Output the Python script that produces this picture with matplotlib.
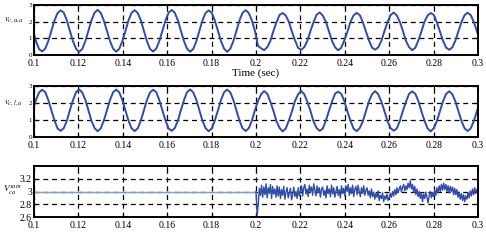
import numpy as np
import matplotlib
matplotlib.use("Agg")
import matplotlib.pyplot as plt

plt.rcParams["font.family"] = ["Liberation Serif", "DejaVu Serif"]
plt.rcParams["mathtext.fontset"] = "stix"

# sampling grid for the two arm voltages (12 samples per 60 Hz cycle)
t_arm = 0.0995 + np.arange(146) / 720.0

v_cua = [
    1.45, 0.82, 0.36, 0.21, 0.38, 0.84, 1.46, 2.07, 2.52, 2.68, 2.54, 2.09,
    1.44, 0.83, 0.37, 0.19, 0.36, 0.82, 1.45, 2.09, 2.54, 2.71, 2.53, 2.07,
    1.46, 0.84, 0.38, 0.20, 0.37, 0.83, 1.44, 2.08, 2.53, 2.69, 2.52, 2.08,
    1.45, 0.82, 0.36, 0.21, 0.38, 0.84, 1.46, 2.07, 2.54, 2.70, 2.54, 2.09,
    1.44, 0.83, 0.37, 0.20, 0.36, 0.82, 1.45, 2.09, 2.52, 2.68, 2.53, 2.07,
    1.46, 0.84, 0.38, 0.19, 0.37, 0.83, 1.44, 2.08, 2.53, 2.69, 2.52, 2.08,
    1.45,
    0.55, 0.40, 0.29, 0.47, 0.84, 1.44, 1.96, 2.41, 2.52, 2.37, 2.00,
    1.40, 0.88, 0.43, 0.31, 0.47, 0.84, 1.44, 1.96, 2.41, 2.56, 2.37, 2.00,
    1.43, 0.85, 0.46, 0.28, 0.44, 0.88, 1.40, 1.99, 2.38, 2.53, 2.40, 1.97,
    1.41, 0.87, 0.44, 0.32, 0.46, 0.85, 1.43, 1.97, 2.40, 2.55, 2.38, 1.99,
    1.44, 0.84, 0.47, 0.29, 0.43, 0.87, 1.41, 2.00, 2.37, 2.52, 2.41, 1.96,
    1.42, 0.86, 0.45, 0.31, 0.45, 0.86, 1.42, 1.98, 2.39, 2.54, 2.39, 1.98,
    1.42, 0.86,
]

v_cla = [
    1.57, 2.19, 2.62, 2.78, 2.64, 2.17, 1.56, 0.97, 0.50, 0.36, 0.52, 0.95,
    1.58, 2.17, 2.64, 2.80, 2.62, 2.19, 1.57, 0.95, 0.52, 0.34, 0.50, 0.97,
    1.56, 2.18, 2.63, 2.79, 2.63, 2.18, 1.58, 0.96, 0.51, 0.35, 0.51, 0.96,
    1.57, 2.19, 2.62, 2.78, 2.64, 2.17, 1.56, 0.97, 0.50, 0.36, 0.52, 0.95,
    1.58, 2.17, 2.64, 2.80, 2.62, 2.19, 1.57, 0.95, 0.52, 0.34, 0.50, 0.97,
    1.56, 2.18, 2.63, 2.79, 2.63, 2.18, 1.58, 0.96, 0.51, 0.35, 0.51, 0.96,
    1.57,
    2.12, 2.51, 2.70, 2.55, 2.08, 1.54, 0.92, 0.53, 0.33, 0.50, 0.96,
    1.50, 2.12, 2.51, 2.71, 2.52, 2.08, 1.54, 0.92, 0.53, 0.36, 0.49, 0.96,
    1.53, 2.09, 2.55, 2.67, 2.54, 2.11, 1.50, 0.95, 0.49, 0.34, 0.53, 0.92,
    1.51, 2.11, 2.52, 2.70, 2.51, 2.09, 1.53, 0.93, 0.52, 0.37, 0.50, 0.95,
    1.54, 2.08, 2.54, 2.68, 2.55, 2.12, 1.51, 0.96, 0.50, 0.33, 0.52, 0.93,
    1.52, 2.10, 2.53, 2.69, 2.53, 2.10, 1.52, 0.94, 0.51, 0.35, 0.51, 0.94,
    1.52, 2.10,
]

# sum voltage: flat reference before 0.2 s, measured after
t_sum_ref = [0.1, 0.2]
v_sum_ref = [3.0, 3.0]
t_sum = 0.2 + np.arange(200) * 0.0005
v_sum = [
    3.00, 2.63, 2.80, 3.05, 2.94, 3.10, 2.91, 3.07, 2.95, 3.12, 2.90, 3.06, 2.97, 3.11, 2.89, 3.08, 2.96, 3.04, 2.91, 3.09,
    2.93, 3.07, 2.89, 3.03, 2.94, 3.08, 2.88, 2.99, 3.06, 2.90, 2.97, 3.05, 2.87, 2.95, 3.07, 2.92, 3.00, 2.89, 3.06, 2.93,
    3.00, 3.09, 2.93, 3.06, 3.11, 2.96, 3.04, 2.92, 3.10, 3.00, 3.07, 2.94, 3.12, 3.02, 2.93, 3.09, 2.98, 3.06, 2.91, 3.04,
    3.07, 2.94, 3.02, 2.90, 3.09, 2.97, 3.04, 2.92, 3.10, 2.96, 3.06, 2.91, 3.00, 3.08, 2.94, 3.03, 2.90, 3.09, 2.97, 3.05,
    2.93, 3.09, 3.00, 3.11, 2.94, 3.06, 2.97, 3.10, 2.92, 3.04, 3.08, 2.95, 3.10, 3.00, 2.92, 3.06, 2.97, 3.09, 2.94, 3.02,
    3.06, 2.94, 3.01, 2.90, 3.04, 2.92, 2.99, 2.88, 2.97, 2.91, 3.01, 2.86, 2.94, 2.89, 2.98, 2.84, 2.93, 2.88, 2.96, 2.86,
    2.90, 2.97, 2.91, 3.00, 2.93, 3.03, 2.95, 3.06, 2.98, 3.04, 3.09, 2.99, 3.07, 3.11, 3.01, 3.09, 3.03, 3.13, 3.06, 3.17,
    3.04, 3.11, 2.99, 3.08, 2.95, 3.04, 2.92, 3.00, 2.89, 2.98, 2.84, 2.96, 2.89, 2.99, 2.91, 2.82, 2.94, 3.00, 2.90, 2.98,
    2.92, 3.02, 2.94, 3.06, 2.98, 3.09, 3.00, 3.11, 3.02, 3.13, 3.03, 3.11, 3.00, 3.09, 2.98, 3.08, 3.00, 3.07, 2.95, 3.05,
    2.95, 3.03, 2.91, 2.99, 2.88, 2.97, 2.86, 2.95, 2.84, 2.93, 2.88, 2.98, 2.90, 3.01, 2.93, 3.04, 2.95, 3.06, 2.97, 3.03,
]

x_ticks = [0.1, 0.12, 0.14, 0.16, 0.18, 0.2, 0.22, 0.24, 0.26, 0.28, 0.3]
x_labels = ["0.1", "0.12", "0.14", "0.16", "0.18", "0.2", "0.22", "0.24", "0.26", "0.28", "0.3"]

blue = "#2f4da8"
light_blue = "#7f9bd8"

fig = plt.figure(figsize=(4.86, 2.42), dpi=100)
left, width = 0.070, 0.9136
ax1 = fig.add_axes([left, 0.7727, width, 0.2066])
ax2 = fig.add_axes([left, 0.4339, width, 0.2107])
ax3 = fig.add_axes([left, 0.1033, width, 0.2107])


def style(ax, yticks, ylabels, ysize):
    ax.set_xlim(0.1, 0.3)
    ax.set_xticks(x_ticks)
    ax.set_xticklabels(x_labels, fontsize=7)
    ax.set_yticks(yticks)
    ax.set_yticklabels(ylabels, fontsize=ysize)
    ax.tick_params(direction="in", length=3, width=0.8, top=True, right=True)
    ax.tick_params(axis="x", pad=3)
    ax.tick_params(axis="y", pad=1.5)
    ax.grid(True, color="k", linestyle=(0, (4, 3)), linewidth=0.9)
    for s in ax.spines.values():
        s.set_linewidth(1.4)


ax1.plot(t_arm, v_cua, color=blue, lw=1.4)
ax1.set_ylim(0, 3)
style(ax1, [0, 1, 2, 3], ["0", "1", "2", "3"], 5)
ax1.set_xlabel("Time (sec)", fontsize=8, labelpad=0)

ax2.plot(t_arm, v_cla, color=blue, lw=1.4)
ax2.set_ylim(0, 3)
style(ax2, [0, 1, 2, 3], ["0", "1", "2", "3"], 5)

ax3.plot(t_sum_ref, v_sum_ref, color=light_blue, lw=1.0)
ax3.plot(t_sum, v_sum, color=blue, lw=1.0)
ax3.set_ylim(2.6, 3.4)
style(ax3, [2.6, 2.8, 3.0, 3.2], ["2.6", "2.8", "3", "3.2"], 7)

fig.text(0.008, 0.915, r"$v_{c,u,a}$", fontsize=6.5, ha="left", va="center")
fig.text(0.008, 0.575, r"$v_{c,l,a}$", fontsize=6.5, ha="left", va="center")
fig.text(0.006, 0.215, r"$V_{ca}^{sum}$", fontsize=6.5, ha="left", va="center")

fig.savefig("out.png", dpi=100)
